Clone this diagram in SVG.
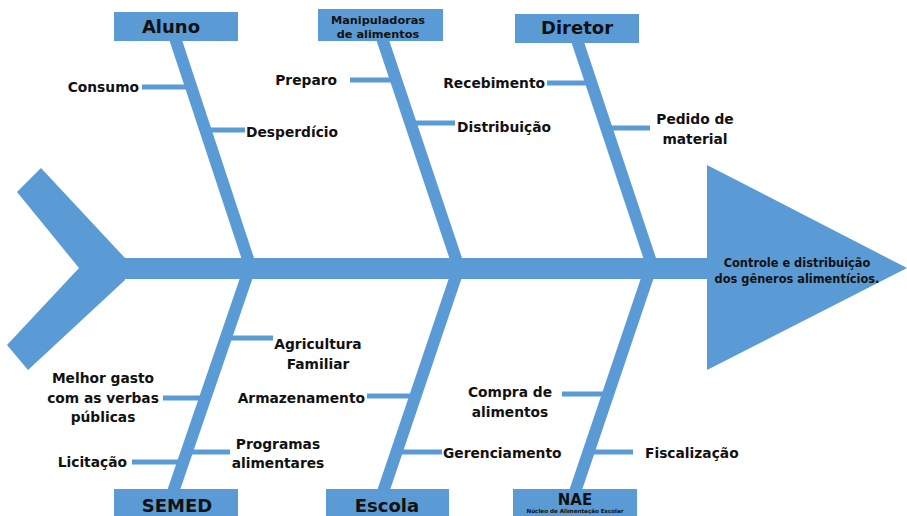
<svg xmlns="http://www.w3.org/2000/svg" width="907" height="516" viewBox="0 0 907 516">
<style>
.f{fill:#5B9BD5}
.bone{stroke:#5B9BD5;stroke-width:12;fill:none}
.br{stroke:#5B9BD5;stroke-width:5;fill:none}
text{font-family:"DejaVu Sans","Liberation Sans",sans-serif;font-weight:bold;fill:#111}
.l{font-size:13.8px}
.t{font-size:18px}
.s{font-size:11.3px}
.e{text-anchor:end}
.m{text-anchor:middle}
</style>
<rect width="907" height="516" fill="#fff"/>
<g id="fish-body">
<polygon class="f" points="41,168 125,258 125,280 28,370 7,345 79,268 17,192"/>
<rect class="f" x="120" y="258" width="600" height="21"/>
</g>
<g id="head">
<polygon class="f" points="707,165 907,268 707,370"/>
<text class="m" x="797" y="266.5" style="font-size:11.4px">Controle e distribuição</text>
<text class="m" x="797" y="282.5" style="font-size:11.4px">dos gêneros alimentícios.</text>
</g>
<g id="connectors">
<line class="bone" x1="175" y1="38" x2="249" y2="262"/>
<line class="bone" x1="382" y1="38" x2="457" y2="262"/>
<line class="bone" x1="577" y1="40" x2="651" y2="262"/>
<line class="bone" x1="247" y1="276" x2="173" y2="492"/>
<line class="bone" x1="456" y1="276" x2="383" y2="492"/>
<line class="bone" x1="648" y1="276" x2="575" y2="492"/>
<line class="br" x1="142" y1="87" x2="190" y2="87"/>
<line class="br" x1="205" y1="130" x2="245" y2="130"/>
<line class="br" x1="350" y1="80" x2="395" y2="80"/>
<line class="br" x1="410" y1="123" x2="455" y2="123"/>
<line class="br" x1="547" y1="83" x2="590" y2="83"/>
<line class="br" x1="606" y1="128" x2="650" y2="128"/>
<line class="br" x1="226" y1="338" x2="273" y2="338"/>
<line class="br" x1="163" y1="398" x2="205" y2="398"/>
<line class="br" x1="187" y1="452" x2="230" y2="452"/>
<line class="br" x1="132" y1="462" x2="183" y2="462"/>
<line class="br" x1="367" y1="396" x2="416" y2="396"/>
<line class="br" x1="397" y1="452" x2="442" y2="452"/>
<line class="br" x1="562" y1="394" x2="608" y2="394"/>
<line class="br" x1="589" y1="452" x2="633" y2="452"/>
</g>
<g id="aluno">
<rect class="f" x="114" y="12" width="124" height="29"/>
<text class="t m" x="171" y="33">Aluno</text>
</g>
<g id="manipuladoras">
<rect class="f" x="318" y="9" width="125" height="32"/>
<text class="s m" x="378" y="24">Manipuladoras</text>
<text class="s m" x="378" y="38">de alimentos</text>
</g>
<g id="diretor">
<rect class="f" x="515" y="14" width="124" height="29"/>
<text class="t m" x="577" y="34">Diretor</text>
</g>
<g id="semed">
<rect class="f" x="114" y="489" width="124" height="30"/>
<text class="t m" x="177" y="512">SEMED</text>
</g>
<g id="escola">
<rect class="f" x="326" y="489" width="123" height="30"/>
<text class="t m" x="387" y="512">Escola</text>
</g>
<g id="nae">
<rect class="f" x="513" y="489" width="124" height="30"/>
<text class="m" x="575" y="505" style="font-size:15px">NAE</text>
<text class="m" x="575" y="513" style="font-size:5.6px">Núcleo de Alimentação Escolar</text>
</g>
<g id="labels">
<text class="l e" x="139" y="92">Consumo</text>
<text class="l" x="246" y="137">Desperdício</text>
<text class="l e" x="337" y="85">Preparo</text>
<text class="l" x="457" y="132">Distribuição</text>
<text class="l e" x="545" y="88">Recebimento</text>
<text class="l m" x="695" y="124">Pedido de</text>
<text class="l m" x="695" y="144">material</text>
<text class="l m" x="318" y="349">Agricultura</text>
<text class="l m" x="318" y="369">Familiar</text>
<text class="l m" x="103" y="383">Melhor gasto</text>
<text class="l m" x="103" y="403">com as verbas</text>
<text class="l m" x="103" y="422">públicas</text>
<text class="l e" x="127" y="467">Licitação</text>
<text class="l m" x="278" y="449">Programas</text>
<text class="l m" x="278" y="468">alimentares</text>
<text class="l e" x="365" y="403">Armazenamento</text>
<text class="l" x="443" y="458">Gerenciamento</text>
<text class="l m" x="510" y="397">Compra de</text>
<text class="l m" x="510" y="417">alimentos</text>
<text class="l" x="645" y="458">Fiscalização</text>
</g>
</svg>
